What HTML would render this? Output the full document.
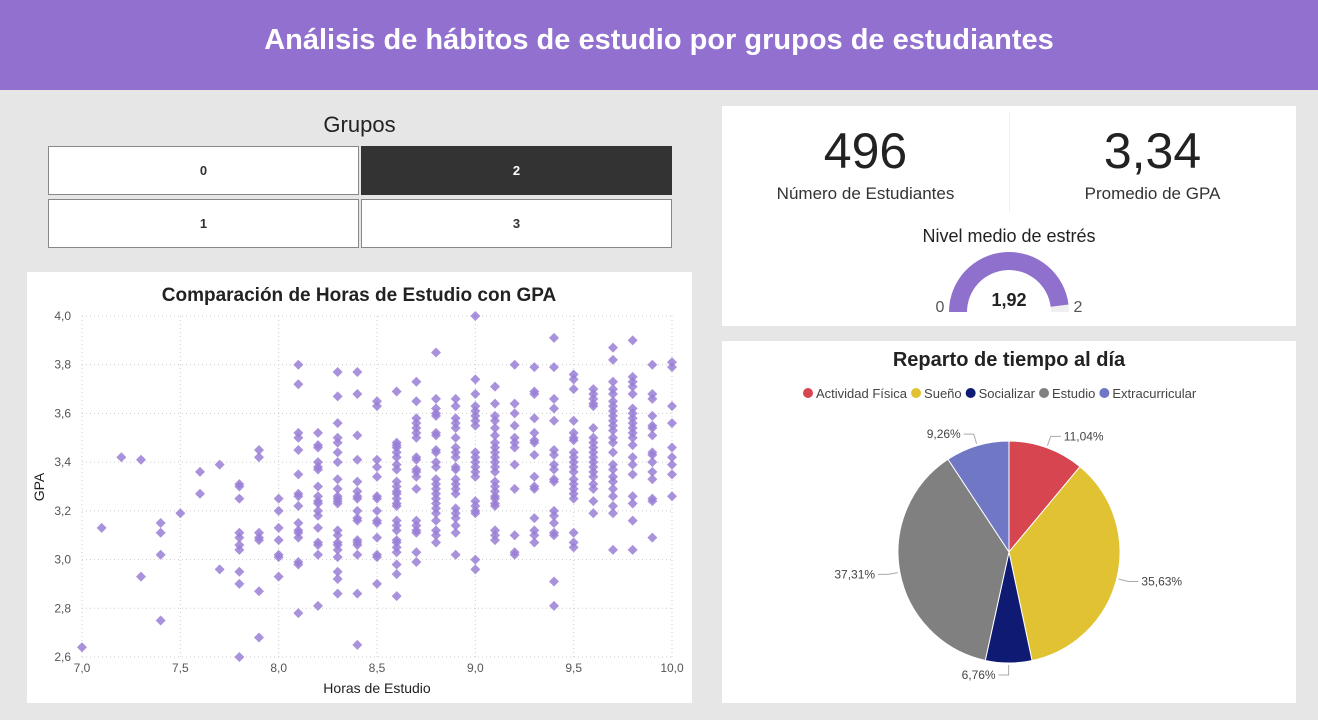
<!DOCTYPE html>
<html><head><meta charset="utf-8"><style>
body{margin:0;width:1318px;height:720px;background:#e6e6e6;font-family:"Liberation Sans",sans-serif;position:relative;overflow:hidden}
.abs{position:absolute}
.card{position:absolute;background:#fff}
.btn{position:absolute;background:#fff;border:1px solid #888;box-sizing:border-box;font-size:13px;font-weight:bold;color:#333;display:flex;align-items:center;justify-content:center}
</style></head><body>
<div class="abs" style="left:0;top:0;width:1318px;height:90px;background:#9170cf"></div>
<div class="abs" style="left:0;top:24px;width:1318px;text-align:center;color:#fff;font-size:29px;font-weight:bold">Análisis de hábitos de estudio por grupos de estudiantes</div>
<div class="abs" style="left:48px;top:112px;width:623px;text-align:center;font-size:22px;color:#222">Grupos</div>
<div class="btn" style="left:48px;top:146px;width:311px;height:49px">0</div>
<div class="btn" style="left:361px;top:146px;width:311px;height:49px;background:#333;color:#fff;border-color:#333">2</div>
<div class="btn" style="left:48px;top:199px;width:311px;height:49px">1</div>
<div class="btn" style="left:361px;top:199px;width:311px;height:49px">3</div>

<div class="card" style="left:27px;top:272px;width:665px;height:431px"></div>
<svg class="abs" style="left:0;top:0" width="1318" height="720" id="sc">
<text x="359" y="301" text-anchor="middle" font-size="19" font-weight="bold" fill="#222">Comparación de Horas de Estudio con GPA</text>
<text x="377" y="693" text-anchor="middle" font-size="14" fill="#222">Horas de Estudio</text>
<text transform="translate(44,487) rotate(-90)" text-anchor="middle" font-size="14" fill="#222">GPA</text>
</svg>

<div class="card" style="left:722px;top:106px;width:574px;height:220px"></div>
<div class="abs" style="left:1009px;top:112px;width:1px;height:100px;background:#f0f0f0"></div>
<div class="abs" style="left:722px;top:122px;width:287px;text-align:center;font-size:50px;color:#222">496</div>
<div class="abs" style="left:722px;top:184px;width:287px;text-align:center;font-size:17px;color:#333">Número de Estudiantes</div>
<div class="abs" style="left:1009px;top:122px;width:287px;text-align:center;font-size:50px;color:#222">3,34</div>
<div class="abs" style="left:1009px;top:184px;width:287px;text-align:center;font-size:17px;color:#333">Promedio de GPA</div>
<div class="abs" style="left:722px;top:226px;width:574px;text-align:center;font-size:18px;color:#222">Nivel medio de estrés</div>
<svg class="abs" style="left:0;top:0" width="1318" height="720" id="gauge">
<text x="940" y="312" text-anchor="middle" font-size="16" fill="#555">0</text>
<text x="1078" y="312" text-anchor="middle" font-size="16" fill="#555">2</text>
<text x="1009" y="306" text-anchor="middle" font-size="18" font-weight="bold" fill="#222">1,92</text>
</svg>

<div class="card" style="left:722px;top:341px;width:574px;height:362px"></div>
<div class="abs" style="left:722px;top:349px;width:574px;text-align:center;font-size:20px;font-weight:bold;color:#222">Reparto de tiempo al día</div>
<svg class="abs" style="left:0;top:0" width="1318" height="720" id="pie"></svg>

<script>
const NS="http://www.w3.org/2000/svg";
function mk(p,t,a){const e=document.createElementNS(NS,t);for(const k in a)e.setAttribute(k,a[k]);p.appendChild(e);return e;}
const hours=[7.0,7.1,7.2,7.3,7.4,7.5,7.6,7.7,7.8,7.9,8.0,8.1,8.2,8.3,8.4,8.5,8.6,8.7,8.8,8.9,9.0,9.1,9.2,9.3,9.4,9.5,9.6,9.7,9.8,9.9,10.0];
const gpaByHour=[
[2.64],[3.13],[3.42],[3.41,2.93],[3.15,3.11,3.02,2.75],[3.19],[3.36,3.27],[3.39,2.96],
[3.31,3.30,3.25,3.11,3.09,3.06,3.04,2.95,2.90,2.60],
[3.45,3.42,3.11,3.09,3.08,2.87,2.68],
[3.25,3.20,3.13,3.08,3.02,3.01,2.93],
[3.80,3.72,3.52,3.50,3.45,3.35,3.27,3.26,3.22,3.15,3.12,3.11,3.09,2.99,2.98,2.78],
[3.52,3.47,3.46,3.40,3.38,3.37,3.30,3.26,3.24,3.23,3.20,3.18,3.13,3.07,3.06,3.02,2.81],
[3.77,3.67,3.56,3.50,3.48,3.44,3.40,3.33,3.29,3.26,3.25,3.24,3.23,3.12,3.10,3.07,3.06,3.04,3.01,2.95,2.92,2.86],
[3.77,3.68,3.51,3.41,3.32,3.28,3.26,3.25,3.20,3.17,3.16,3.08,3.07,3.06,3.02,2.86,2.65],
[3.65,3.63,3.41,3.38,3.34,3.26,3.25,3.20,3.16,3.15,3.09,3.02,3.01,2.90],
[3.69,3.48,3.47,3.46,3.44,3.42,3.39,3.37,3.32,3.30,3.28,3.27,3.25,3.23,3.22,3.16,3.14,3.12,3.08,3.07,3.05,3.03,2.98,2.94,2.85],
[3.73,3.65,3.58,3.56,3.54,3.52,3.50,3.42,3.41,3.37,3.36,3.34,3.29,3.16,3.14,3.12,3.11,3.03,2.99],
[3.85,3.66,3.62,3.60,3.59,3.52,3.51,3.45,3.44,3.40,3.38,3.33,3.31,3.29,3.27,3.25,3.23,3.21,3.19,3.16,3.12,3.10,3.07],
[3.66,3.63,3.58,3.56,3.54,3.50,3.46,3.44,3.42,3.38,3.37,3.33,3.31,3.29,3.27,3.21,3.19,3.17,3.14,3.11,3.02],
[4.00,3.74,3.68,3.63,3.61,3.59,3.57,3.55,3.44,3.42,3.40,3.38,3.36,3.34,3.24,3.22,3.20,3.19,3.00,2.96],
[3.71,3.64,3.59,3.57,3.54,3.51,3.48,3.46,3.44,3.42,3.40,3.38,3.36,3.32,3.30,3.28,3.26,3.25,3.23,3.22,3.12,3.10,3.08],
[3.80,3.64,3.60,3.55,3.50,3.48,3.46,3.39,3.29,3.10,3.03,3.02],
[3.79,3.69,3.68,3.58,3.52,3.49,3.48,3.43,3.34,3.30,3.29,3.17,3.12,3.10,3.07],
[3.91,3.79,3.66,3.62,3.57,3.45,3.43,3.39,3.37,3.33,3.32,3.20,3.18,3.15,3.11,3.10,2.91,2.81],
[3.76,3.74,3.70,3.57,3.52,3.50,3.49,3.44,3.42,3.40,3.38,3.36,3.33,3.31,3.29,3.27,3.25,3.11,3.07,3.05],
[3.70,3.68,3.66,3.64,3.63,3.54,3.50,3.48,3.46,3.44,3.42,3.40,3.38,3.36,3.34,3.31,3.29,3.24,3.19],
[3.87,3.82,3.73,3.70,3.68,3.65,3.63,3.61,3.59,3.57,3.55,3.53,3.50,3.48,3.44,3.39,3.37,3.34,3.32,3.29,3.26,3.22,3.19,3.04],
[3.90,3.75,3.73,3.71,3.68,3.62,3.60,3.58,3.56,3.54,3.52,3.50,3.47,3.42,3.39,3.35,3.26,3.23,3.16,3.04],
[3.80,3.68,3.66,3.59,3.55,3.54,3.51,3.44,3.43,3.40,3.36,3.33,3.25,3.24,3.09],
[3.81,3.79,3.63,3.56,3.46,3.42,3.39,3.35,3.26]];
const xTicks=[7.0,7.5,8.0,8.5,9.0,9.5,10.0];
const yTicks=[2.6,2.8,3.0,3.2,3.4,3.6,3.8,4.0];
const X0=82,X1=672,Y0=657,Y1=316;
const xs=v=>X0+(v-7)/3*(X1-X0), ys=v=>Y0-(v-2.6)/1.4*(Y0-Y1);
const sc=document.getElementById('sc');
xTicks.forEach(t=>{
 const l=mk(sc,'line',{x1:xs(t),x2:xs(t),y1:Y1,y2:Y0,stroke:'#ccc','stroke-dasharray':'1 3'});
 
 const tx=mk(sc,'text',{x:xs(t),y:672,'text-anchor':'middle','font-size':12,fill:'#555'});tx.textContent=t.toFixed(1).replace('.',',');
 
});
yTicks.forEach(t=>{
 const l=mk(sc,'line',{x1:X0,x2:X1,y1:ys(t),y2:ys(t),stroke:'#ccc','stroke-dasharray':'1 3'});
 
 const tx=mk(sc,'text',{x:71,y:ys(t)+4,'text-anchor':'end','font-size':12,fill:'#555'});tx.textContent=t.toFixed(1).replace('.',',');
 
});
hours.forEach((h,i)=>gpaByHour[i].forEach(g=>{
 const x=xs(h),y=ys(g);
 const p=mk(sc,'polygon',{points:`${x},${y-5} ${x+5},${y} ${x},${y+5} ${x-5},${y}`,fill:'#9a7fd6','fill-opacity':0.85});
 
}));
const stressValue=1.92, stressMax=2;
const g=document.getElementById('gauge');
const GX=1009,GY=312,RO=60,RI=42;
function arc(a0,a1){const p=a=>[Math.cos(a),Math.sin(a)];const[c0,s0]=p(a0),[c1,s1]=p(a1);
 return `M${GX+RO*c0},${GY-RO*s0} A${RO},${RO} 0 0 1 ${GX+RO*c1},${GY-RO*s1} L${GX+RI*c1},${GY-RI*s1} A${RI},${RI} 0 0 0 ${GX+RI*c0},${GY-RI*s0}Z`;}
const fr=stressValue/stressMax;
const bg=mk(g,'path',{d:arc(Math.PI,0),fill:'#efefef'});
const fg=mk(g,'path',{d:arc(Math.PI,Math.PI*(1-fr)),fill:'#8f70cc'});
g.querySelectorAll('text').forEach(t=>g.appendChild(t));
const cats=['Actividad Física','Sueño','Socializar','Estudio','Extracurricular'];
const shares=[11.04,35.63,6.76,37.31,9.26];
const cols=['#d64550','#e1c233','#0f1a72','#808080','#7078c5'];
const pie=document.getElementById('pie');
const PX=1009,PY=552,R=111;
let lx=808;
cats.forEach((c,i)=>{
 const ci=mk(pie,'circle',{cx:lx,cy:393,r:5,fill:cols[i]});
 const t=mk(pie,'text',{x:lx+8,y:398,'font-size':13,fill:'#444'});t.textContent=c;
 
 lx+=8+t.getComputedTextLength()+9;
});
let acc=0;const tot=shares.reduce((a,b)=>a+b,0);
shares.forEach((s,i)=>{
 const a0=acc/tot*2*Math.PI;acc+=s;const a1=acc/tot*2*Math.PI;
 const pt=a=>[PX+R*Math.sin(a),PY-R*Math.cos(a)];
 const [x0,y0]=pt(a0),[x1,y1]=pt(a1);
 const sl=mk(pie,'path',{d:`M${PX},${PY} L${x0},${y0} A${R},${R} 0 ${a1-a0>Math.PI?1:0} 1 ${x1},${y1}Z`,fill:cols[i],stroke:'#fff','stroke-width':1});
 
 const am=(a0+a1)/2,sx=Math.sin(am),cy=-Math.cos(am);
 const e1=[PX+(R+2)*sx,PY+(R+2)*cy],e2=[PX+(R+12)*sx,PY+(R+12)*cy];
 const dir=sx>=0?1:-1;const e3=[e2[0]+dir*10,e2[1]];
 const ln=mk(pie,'polyline',{points:`${e1} ${e2} ${e3}`,fill:'none',stroke:'#aaa'});
 
 const t=mk(pie,'text',{x:e3[0]+dir*3,y:e3[1]+4,'text-anchor':dir>0?'start':'end','font-size':12,fill:'#444'});
 t.textContent=s.toFixed(2).replace('.',',')+'%';
 
});
</script>
</body></html>
